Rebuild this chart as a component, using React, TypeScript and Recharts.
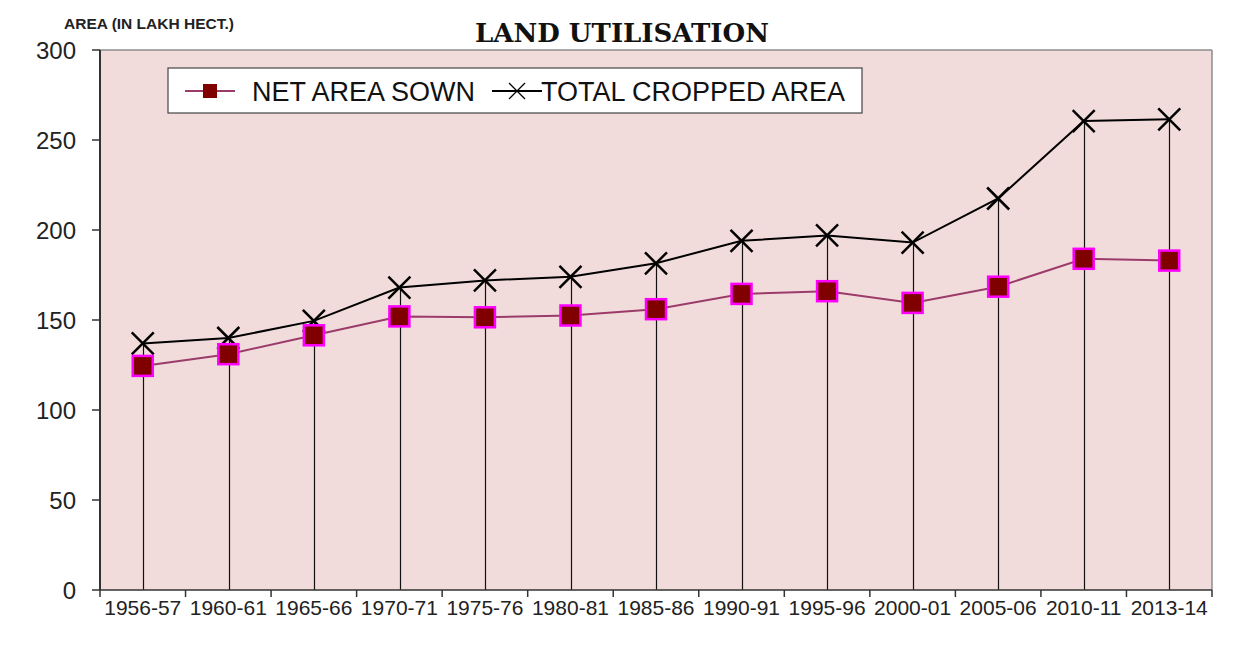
import React from "react";
import {
	ComposedChart,
	Line,
	Bar,
	CartesianGrid,
	XAxis,
	YAxis,
	ReferenceLine,
} from "recharts";

const years = [
	"1956-57",
	"1960-61",
	"1965-66",
	"1970-71",
	"1975-76",
	"1980-81",
	"1985-86",
	"1990-91",
	"1995-96",
	"2000-01",
	"2005-06",
	"2010-11",
	"2013-14",
];
const netAreaSown = [124.5, 131, 141.5, 152, 151.5, 152.5, 156, 164.5, 166, 159.5, 168.5, 184, 183];
const totalCroppedArea = [137, 140, 149.5, 168, 172, 174, 181.5, 194, 197, 193, 217.5, 260.5, 261.5];
const yTicks = [0, 50, 100, 150, 200, 250, 300];

const data = years.map((year, i) => ({
	year,
	net: netAreaSown[i],
	total: totalCroppedArea[i],
}));

const W = 1247;
const H = 650;
const PLOT_LEFT = 100;
const PLOT_RIGHT = 1212;
const HALF_BAND = (PLOT_RIGHT - PLOT_LEFT) / years.length / 2;

const NET_COLOR = "#9B3B6A";
const FONT = "'Liberation Sans', Arial, sans-serif";
const SERIF = "'DejaVu Serif', serif";

const SquareDot = (props: any) => {
	const { cx, cy } = props;
	if (cx == null || cy == null) return null;
	return (
		<rect
			x={cx - 10}
			y={cy - 10}
			width={20}
			height={20}
			fill="#800000"
			stroke="#FF00FF"
			strokeWidth={2.5}
		/>
	);
};

const CrossDot = (props: any) => {
	const { cx, cy } = props;
	if (cx == null || cy == null) return null;
	const r = 11;
	return (
		<g stroke="#000" strokeWidth={2.5}>
			<line x1={cx - r} y1={cy - r} x2={cx + r} y2={cy + r} />
			<line x1={cx - r} y1={cy + r} x2={cx + r} y2={cy - r} />
		</g>
	);
};

// drop line from the point down to the axis
const DropLine = (props: any) => {
	const { x, y, width, height } = props;
	if (x == null || y == null) return null;
	const cx = Math.round(x + width / 2) + 0.5;
	return <line x1={cx} y1={y} x2={cx} y2={y + height} stroke="#111" strokeWidth={1.2} />;
};

const XTick = (props: any) => {
	const { x, y, payload, index } = props;
	const last = index === years.length - 1;
	return (
		<g>
			<line x1={x - HALF_BAND} y1={y} x2={x - HALF_BAND} y2={y + 7} stroke="#333" strokeWidth={1.5} />
			{last && (
				<line x1={x + HALF_BAND} y1={y} x2={x + HALF_BAND} y2={y + 7} stroke="#333" strokeWidth={1.5} />
			)}
			<text x={x} y={y + 25} textAnchor="middle" fontSize={21} fill="#222" fontFamily={FONT}>
				{payload.value}
			</text>
		</g>
	);
};

const series = [
	{ name: "NET AREA SOWN", kind: "square" },
	{ name: "TOTAL CROPPED AREA", kind: "cross" },
];

const Overlay = () => (
	<svg
		width={W}
		height={H}
		style={{ position: "absolute", left: 0, top: 0, pointerEvents: "none" }}
	>
		{/* page frame */}
		<path d="M 7 647 L 7 7 L 1241 7" fill="none" stroke="#000" strokeWidth={2} shapeRendering="crispEdges" />
		<path d="M 1241 7 L 1241 646 L 7 646" fill="none" stroke="#bbb" strokeWidth={1} shapeRendering="crispEdges" />
		<text x={1165} y={5} fontFamily={SERIF} fontWeight="bold" fontSize={20} fill="#222">
			CHART-1
		</text>
		<text x={622} y={42} textAnchor="middle" fontFamily={SERIF} fontWeight="bold" fontSize={26} fill="#111">
			LAND UTILISATION
		</text>
		<text x={64} y={29} fontFamily={FONT} fontWeight="bold" fontSize={15.5} fill="#222">
			AREA (IN LAKH HECT.)
		</text>
		{/* legend */}
		<rect x={168} y={68} width={694} height={45} fill="#fff" stroke="#444" strokeWidth={1.2} />
		{series.map((s, i) => {
			const x0 = i === 0 ? 185 : 492;
			const cy = 91;
			return (
				<g key={s.name}>
					<line
						x1={x0}
						y1={cy}
						x2={x0 + 50}
						y2={cy}
						stroke={s.kind === "square" ? NET_COLOR : "#000"}
						strokeWidth={2}
					/>
					{s.kind === "square" ? (
						<rect x={x0 + 18} y={cy - 7} width={14} height={14} fill="#800000" />
					) : (
						<g stroke="#000" strokeWidth={1.2}>
							<line x1={x0 + 17} y1={cy - 8} x2={x0 + 33} y2={cy + 8} />
							<line x1={x0 + 17} y1={cy + 8} x2={x0 + 33} y2={cy - 8} />
						</g>
					)}
					<text x={i === 0 ? 252 : 541} y={cy + 10} fontFamily={FONT} fontSize={27} fill="#111">
						{s.name}
					</text>
				</g>
			);
		})}
	</svg>
);

export default function App() {
	return (
		<div style={{ margin: -8, width: W, height: H, position: "relative", background: "#fff" }}>
			<div style={{ position: "absolute", left: 0, top: 0 }}>
				<ComposedChart
					width={W}
					height={H}
					data={data}
					margin={{ top: 50, right: W - PLOT_RIGHT, bottom: 30, left: 40 }}
				>
					<CartesianGrid horizontal={false} vertical={false} fill="#F2DCDB" />
					<XAxis
						dataKey="year"
						height={30}
						axisLine={{ stroke: "#333", strokeWidth: 1.5 }}
						tickLine={false}
						tickSize={0}
						tickMargin={0}
						interval={0}
						tick={<XTick />}
					/>
					<YAxis
						domain={[0, 300]}
						ticks={yTicks}
						width={60}
						tickSize={8}
						tickMargin={16}
						axisLine={{ stroke: "#333", strokeWidth: 2 }}
						tickLine={{ stroke: "#333", strokeWidth: 1.5 }}
						tick={{ fontSize: 24, fill: "#222", fontFamily: FONT }}
					/>
					<ReferenceLine y={300} stroke="#8c8c8c" strokeWidth={1.5} />
					<ReferenceLine x={years[years.length - 1]} position="end" stroke="#8c8c8c" strokeWidth={1.5} />
					<Bar dataKey="total" barSize={2} shape={<DropLine />} isAnimationActive={false} />
					<Line
						dataKey="total"
						stroke="#000"
						strokeWidth={2}
						dot={<CrossDot />}
						activeDot={false}
						isAnimationActive={false}
					/>
					<Line
						dataKey="net"
						stroke={NET_COLOR}
						strokeWidth={2}
						dot={<SquareDot />}
						activeDot={false}
						isAnimationActive={false}
					/>
				</ComposedChart>
			</div>
			<Overlay />
		</div>
	);
}
